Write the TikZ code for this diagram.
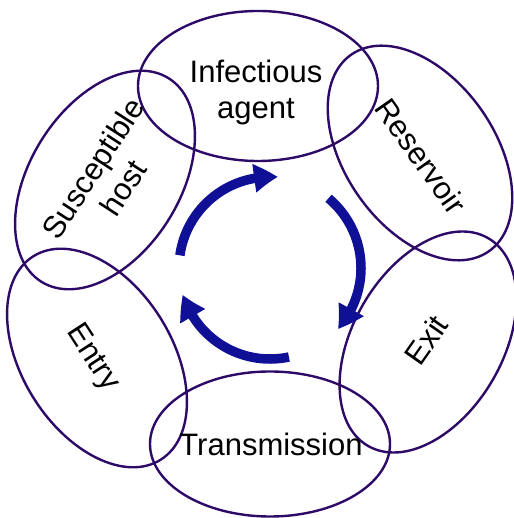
\documentclass[tikz,border=0pt]{standalone}
\usepackage{fontspec}
\setmainfont{Liberation Sans}
\usetikzlibrary{shapes.geometric,arrows.meta,bending}
\definecolor{ringline}{RGB}{46,10,104}
\definecolor{cyclearrow}{RGB}{16,16,150}
\begin{document}
\begin{tikzpicture}[x=1pt,y=1pt,
  stage/.style={draw=ringline,line width=2.4pt,ellipse,minimum width=240pt,minimum height=150pt,inner sep=0pt},
  tag/.style={font=\fontsize{31}{36}\selectfont,align=center,inner sep=0pt},
  cyc/.style={cyclearrow,line width=9.5pt,-{Triangle[length=24pt,width=27pt,bend]}}]
\useasboundingbox (0,0) rectangle (513,518);
% the six links of the chain
\node[stage] (agent) at (258,432) {};
\node[stage,rotate=-55] (reservoir) at (420,365) {};
\node[stage,rotate=60] (exit) at (428,176) {};
\node[stage,minimum height=145pt] (transmission) at (270,74) {};
\node[stage,rotate=-58] (entry) at (97,160) {};
\node[stage,rotate=58] (host) at (105,338) {};
\node[tag] (agentlbl) at (256,426) {Infectious\\agent};
\node[tag,rotate=-55] (reservoirlbl) at (421,362) {Reservoir};
\node[tag,rotate=55] (exitlbl) at (426,178) {Exit};
\node[tag] (transmissionlbl) at (271,74) {Transmission};
\node[tag,rotate=-57] (entrylbl) at (92,160) {Entry};
\node[tag,rotate=57] (hostlbl) at (108,340) {Susceptible\\host};
% cycle in the middle
\coordinate (hub) at (270,250);
\draw[cyc] ([shift={(172:91)}]hub) arc[start angle=172,end angle=85,radius=91];
\draw[cyc] ([shift={(50:91)}]hub) arc[start angle=50,end angle=-42,radius=91];
\draw[cyc] ([shift={(-78:91)}]hub) arc[start angle=-78,end angle=-163,radius=91];
\end{tikzpicture}
\end{document}
